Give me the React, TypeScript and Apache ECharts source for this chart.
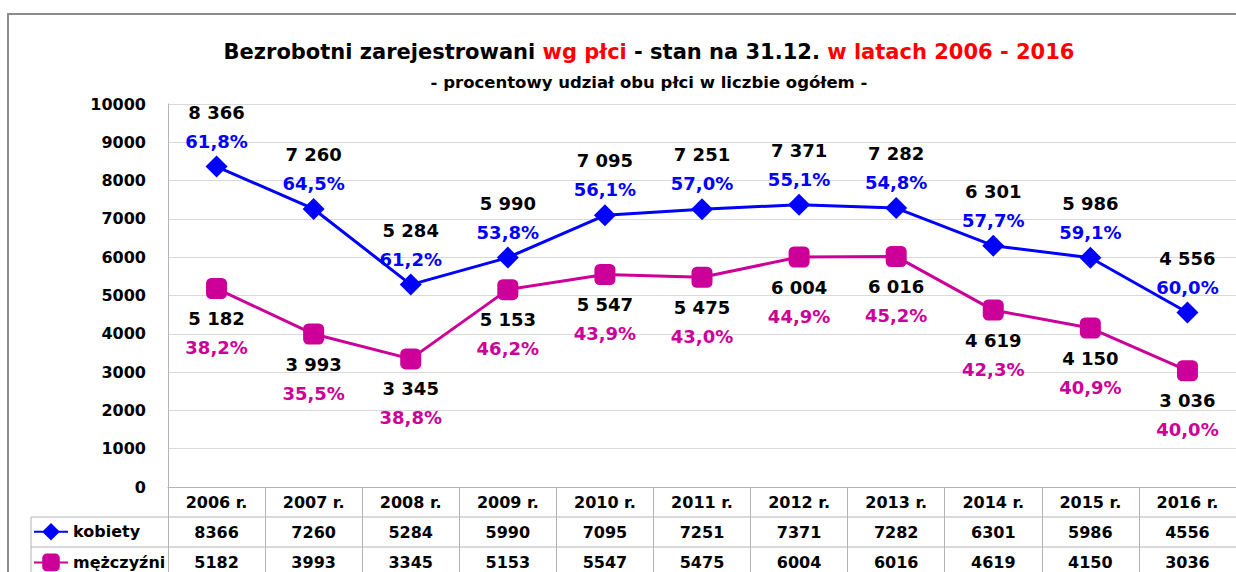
import React, { useEffect, useRef } from "react";
import * as echarts from "echarts";

const years = ["2006 r.", "2007 r.", "2008 r.", "2009 r.", "2010 r.", "2011 r.", "2012 r.", "2013 r.", "2014 r.", "2015 r.", "2016 r."];
const kobiety = [8366, 7260, 5284, 5990, 7095, 7251, 7371, 7282, 6301, 5986, 4556];
const mezczyzni = [5182, 3993, 3345, 5153, 5547, 5475, 6004, 6016, 4619, 4150, 3036];
const kobietyPct = ["61,8%", "64,5%", "61,2%", "53,8%", "56,1%", "57,0%", "55,1%", "54,8%", "57,7%", "59,1%", "60,0%"];
const mezczyzniPct = ["38,2%", "35,5%", "38,8%", "46,2%", "43,9%", "43,0%", "44,9%", "45,2%", "42,3%", "40,9%", "40,0%"];
const yMin = 0;
const yMax = 10000;
const yStep = 1000;

const BLUE = "#0000ff";
const PINK = "#cc0099";
const FONT = "DejaVu Sans";

const fmt = (n: number) => String(n).replace(/\B(?=(\d{3})+(?!\d))/g, " ");

export default function App() {
  const ref = useRef<HTMLDivElement>(null);
  useEffect(() => {
    if (!ref.current) return;
    const chart = echarts.init(ref.current, null, { renderer: "svg" });
    const labelRich = (color: string) => ({
      v: { color: "#000", fontSize: 18, fontWeight: "bold", fontFamily: FONT, lineHeight: 29 },
      p: { color, fontSize: 18, fontWeight: "bold", fontFamily: FONT, lineHeight: 29 },
    });
    const tableRich = {
      h: { color: "#000", fontSize: 16, fontWeight: "bold", fontFamily: FONT, lineHeight: 30 },
      k: { color: "#000", fontSize: 16, fontWeight: "bold", fontFamily: FONT, lineHeight: 30 },
      m: { color: "#000", fontSize: 16, fontWeight: "bold", fontFamily: FONT, lineHeight: 30 },
    };
    chart.setOption({
      animation: false,
      backgroundColor: "#fff",
      title: [
        {
          text: "{a|Bezrobotni zarejestrowani }{r|wg płci}{a| - stan na 31.12. }{r|w latach 2006 - 2016}",
          left: 644,
          top: 36,
          textAlign: "center",
          textStyle: {
            rich: {
              a: { color: "#000", fontSize: 21, fontWeight: "bold", fontFamily: FONT },
              r: { color: "#ff0000", fontSize: 21, fontWeight: "bold", fontFamily: FONT },
            },
          },
        },
        {
          text: "- procentowy udział obu płci w liczbie ogółem -",
          left: 644,
          top: 69,
          textAlign: "center",
          textStyle: { color: "#000", fontSize: 16.5, fontWeight: "bold", fontFamily: FONT },
        },
      ],
      legend: {
        orient: "vertical",
        left: 33,
        top: 523,
        itemWidth: 34,
        itemHeight: 22,
        itemGap: 13,
        padding: 0,
        data: ["kobiety", "mężczyźni"],
        textStyle: { color: "#000", fontSize: 16, fontWeight: "bold", fontFamily: FONT },
      },
      grid: { left: 168, top: 104, width: 1073, height: 383, containLabel: false },
      xAxis: {
        type: "category",
        data: years,
        boundaryGap: true,
        axisLine: { show: true, lineStyle: { color: "#b4b4b4", width: 1 } },
        axisTick: { show: true, length: 90, lineStyle: { color: "#b4b4b4", width: 1 } },
        axisLabel: {
          margin: 0,
          interval: 0,
          formatter: (value: string, index: number) =>
            `{h|${value}}\n{k|${kobiety[index]}}\n{m|${mezczyzni[index]}}`,
          rich: tableRich,
        },
      },
      yAxis: {
        type: "value",
        min: yMin,
        max: yMax,
        interval: yStep,
        axisLine: { show: true, lineStyle: { color: "#b4b4b4" } },
        axisTick: { show: false },
        splitLine: { show: true, lineStyle: { color: "#d9d9d9", width: 1 } },
        axisLabel: {
          margin: 22,
          color: "#000",
          fontSize: 16,
          fontWeight: "bold",
          fontFamily: FONT,
          formatter: (v: number) => String(v),
        },
      },
      series: [
        {
          name: "mężczyźni",
          type: "line",
          data: mezczyzni,
          symbol: "roundRect",
          symbolSize: 21,
          itemStyle: { color: PINK },
          lineStyle: { color: PINK, width: 3 },
          label: {
            show: true,
            position: "bottom",
            distance: 5,
            formatter: (p: any) => `{v|${fmt(p.value)}}\n{p|${mezczyzniPct[p.dataIndex]}}`,
            rich: labelRich(PINK),
          },
        },
        {
          name: "kobiety",
          type: "line",
          data: kobiety,
          symbol: "diamond",
          symbolSize: 22,
          itemStyle: { color: BLUE },
          lineStyle: { color: BLUE, width: 3 },
          label: {
            show: true,
            position: "top",
            distance: 0,
            formatter: (p: any) => `{v|${fmt(p.value)}}\n{p|${kobietyPct[p.dataIndex]}}`,
            rich: labelRich(BLUE),
          },
        },
      ],
      graphic: [
        { type: "rect", shape: { x: 8, y: 14, width: 1400, height: 700 }, style: { fill: "none", stroke: "#8c8c8c", lineWidth: 2 }, silent: true },
        { type: "line", shape: { x1: 31, y1: 517, x2: 1241, y2: 517 }, style: { stroke: "#b4b4b4", lineWidth: 1 }, silent: true },
        { type: "line", shape: { x1: 31, y1: 547, x2: 1241, y2: 547 }, style: { stroke: "#b4b4b4", lineWidth: 1 }, silent: true },
        { type: "line", shape: { x1: 31, y1: 517, x2: 31, y2: 580 }, style: { stroke: "#b4b4b4", lineWidth: 1 }, silent: true },
      ],
    });
    return () => chart.dispose();
  }, []);
  return <div ref={ref} style={{ position: "absolute", left: 0, top: 0, width: 1236, height: 572 }} />;
}
